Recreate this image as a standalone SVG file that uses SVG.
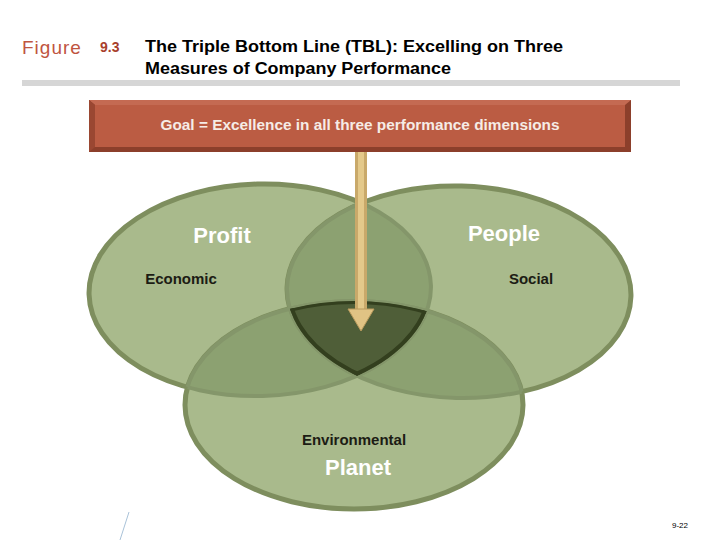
<svg xmlns="http://www.w3.org/2000/svg" width="720" height="540" viewBox="0 0 720 540">
<style>
.t{font-family:"Liberation Sans",Arial,sans-serif}
.lbl{font-family:"Liberation Sans",Arial,sans-serif;font-size:15px;font-weight:bold;fill:#1c1c14;text-anchor:middle}
.big{font-family:"Liberation Sans",Arial,sans-serif;font-size:22px;font-weight:bold;fill:#ffffff;text-anchor:middle}
.ell{fill:#a9ba8c;stroke:#7e8e5e;stroke-width:5}
.ov{fill:#8ca171}
.edge{fill:none;stroke:#84966a;stroke-width:4}
</style>
<defs>
<ellipse id="eL" cx="260" cy="290" rx="171" ry="106" transform="rotate(-1.5 260 290)"/>
<ellipse id="eR" cx="459" cy="292" rx="172" ry="106" transform="rotate(1.5 459 292)"/>
<ellipse id="eB" cx="354" cy="405" rx="169" ry="104"/>
<clipPath id="cL"><use href="#eL"/></clipPath>
<clipPath id="cR"><use href="#eR"/></clipPath>
<clipPath id="cB"><use href="#eB"/></clipPath>
<clipPath id="cLR" clip-path="url(#cL)"><use href="#eR"/></clipPath>
</defs>
<rect width="720" height="540" fill="#ffffff"/>
<g id="title">
<text class="t" x="22" y="54" font-size="19" fill="#c0553f" letter-spacing="1">Figure</text>
<text class="t" x="100" y="52" font-size="14" font-weight="bold" fill="#a8402c">9.3</text>
<text class="t" x="145" y="52" font-size="16" font-weight="bold" fill="#000" textLength="418" lengthAdjust="spacingAndGlyphs">The Triple Bottom Line (TBL): Excelling on Three</text>
<text class="t" x="145" y="74" font-size="16" font-weight="bold" fill="#000" textLength="306" lengthAdjust="spacingAndGlyphs">Measures of Company Performance</text>
<rect x="22" y="80" width="658" height="6" fill="#d6d6d6"/>
</g>
<g id="venn">
<g id="economic"><use href="#eL" class="ell"/></g>
<g id="social"><use href="#eR" class="ell"/></g>
<g id="environmental"><use href="#eB" class="ell"/></g>
<g clip-path="url(#cL)"><use href="#eR" class="ov"/></g>
<g clip-path="url(#cL)"><use href="#eB" class="ov"/></g>
<g clip-path="url(#cR)"><use href="#eB" class="ov"/></g>
<g clip-path="url(#cR)"><use href="#eL" class="edge"/></g>
<g clip-path="url(#cL)"><use href="#eR" class="edge"/></g>
<g clip-path="url(#cB)"><use href="#eL" class="edge"/><use href="#eR" class="edge"/></g>
<g clip-path="url(#cL)"><use href="#eB" class="edge"/></g>
<g clip-path="url(#cR)"><use href="#eB" class="edge"/></g>
<g id="center" clip-path="url(#cLR)">
<g clip-path="url(#cB)">
<use href="#eB" fill="#4f5e38"/>
<use href="#eL" fill="none" stroke="#333f1e" stroke-width="8"/>
<use href="#eR" fill="none" stroke="#333f1e" stroke-width="8"/>
<use href="#eB" fill="none" stroke="#333f1e" stroke-width="6"/>
</g>
</g>
</g>
<g id="labels">
<text class="big" x="222" y="243">Profit</text>
<text class="big" x="504" y="241">People</text>
<text class="lbl" x="181" y="284">Economic</text>
<text class="lbl" x="531" y="284">Social</text>
<text class="lbl" x="354" y="445">Environmental</text>
<text class="big" x="358" y="475" font-size="23">Planet</text>
</g>
<g id="goal">
<rect x="89" y="100" width="542" height="52" fill="#8c3f2b"/>
<polygon points="89,100 631,100 625,105 95,105" fill="#c46a52"/>
<polygon points="89,100 95,105 95,147 89,152" fill="#9a4732"/>
<rect x="95" y="105" width="530" height="42" fill="#bb5c43"/>
<text class="t" x="360" y="130" font-size="14" font-weight="bold" fill="#f6ece6" text-anchor="middle" textLength="399" lengthAdjust="spacingAndGlyphs">Goal = Excellence in all three performance dimensions</text>
</g>
<g id="connectors">
<rect x="355" y="152" width="12" height="160" fill="#c9a96a"/>
<rect x="358" y="152" width="6" height="160" fill="#e4c98a"/>
<polygon points="348,309 374,309 361,331" fill="#e0c384" stroke="#b89a5c" stroke-width="1"/>
</g>
<g id="footer">
<line x1="129" y1="512" x2="120" y2="540" stroke="#a9c2d8" stroke-width="1"/>
<text class="t" x="672" y="528" font-size="8" fill="#000">9-22</text>
</g>
</svg>
